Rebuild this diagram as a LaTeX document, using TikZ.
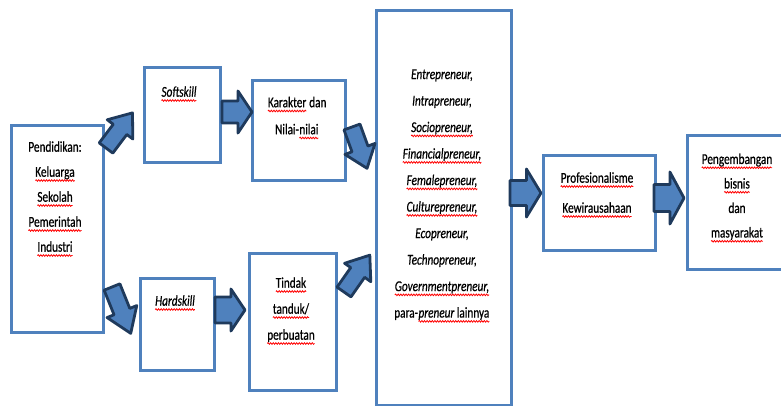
\documentclass[tikz,border=0pt]{standalone}
\usepackage{fontspec}
\setmainfont{Carlito}[FakeStretch=0.75,FakeBold=0.6]
\usetikzlibrary{decorations.pathmorphing}
\definecolor{boxblue}{HTML}{4F81BD}
\definecolor{arrfill}{HTML}{4F81BD}
\definecolor{arrline}{HTML}{1F3A5C}
\tikzset{
  boxsty/.style={draw=boxblue,line width=3pt,fill=white,inner sep=0pt,anchor=north west},
  txt/.style={align=center,inner sep=0pt,font=\fontsize{15}{25}\selectfont},
  arrowsty/.style={draw=arrline,fill=arrfill,line width=2.8pt,line join=round},
  squig/.style={draw=red,line width=0.8pt,decorate,decoration={snake,amplitude=0.8pt,segment length=2.6pt}}
}
\newcommand\sq[1]{\tikz[baseline=(w.base)]{\node[inner sep=0pt,outer sep=0pt](w){#1};\draw[squig]([yshift=-3.8pt]w.base west)--([yshift=-3.8pt]w.base east);}}
\newcommand\barrow[6]{\draw[arrowsty,shift={(#1,#2)},rotate=#3]
  (0,{#5/2}) -- ({0.53*#4},{#5/2}) -- ({0.53*#4},{#6/2}) -- (#4,0) --
  ({0.53*#4},{-#6/2}) -- ({0.53*#4},{-#5/2}) -- (0,{-#5/2}) -- cycle;}
\begin{document}
\begin{tikzpicture}[x=1pt,y=-1pt]
\useasboundingbox (0,0) rectangle (781,405);
\clip (0,0) rectangle (781,405);
% boxes
\node[boxsty,minimum width=92pt,minimum height=207pt] (b1) at (9.5,123.5) {};
\node[boxsty,minimum width=76pt,minimum height=95pt] (b2) at (142.5,65.5) {};
\node[boxsty,minimum width=93pt,minimum height=100pt] (b3) at (250.5,78.5) {};
\node[boxsty,minimum width=74pt,minimum height=92pt] (b4) at (138.5,276.5) {};
\node[boxsty,minimum width=87pt,minimum height=137pt] (b5) at (247.5,251.5) {};
\node[boxsty,minimum width=135pt,minimum height=395pt] (b6) at (374.5,8.5) {};
\node[boxsty,minimum width=112pt,minimum height=95pt] (b7) at (541.5,153.5) {};
\node[boxsty,minimum width=110pt,minimum height=134pt] (b8) at (685.5,133.5) {};
% texts
\node[txt] (t1) at (55,199) {Pendidikan:\\\sq{Keluarga}\\\sq{Sekolah}\\\sq{Pemerintah}\\\sq{Industri}};
\node[txt] (t2) at (179,94) {\sq{\itshape Softskill}};
\node[txt,font=\fontsize{15}{27}\selectfont] (t3) at (297,118) {\sq{Karakter} dan\\Nilai-\sq{nilai}};
\node[txt] (t4) at (175,303) {\sq{\itshape Hardskill}};
\node[txt,font=\fontsize{15}{26}\selectfont] (t5) at (291,311) {\sq{Tindak}\\\sq{tanduk/}\\\sq{perbuatan}};
\node[txt,font=\fontsize{15}{26.5}\selectfont] (t6) at (442,196) {\itshape Entrepreneur,\\\itshape Intrapreneur,\\\sq{\itshape Sociopreneur,}\\\sq{\itshape Financialpreneur,}\\\sq{\itshape Femalepreneur,}\\\sq{\itshape Culturepreneur,}\\\itshape Ecopreneur,\\\itshape Technopreneur,\\\sq{\itshape Governmentpreneur,}\\para-\sq{\itshape preneur\upshape\ lainnya}};
\node[txt,font=\fontsize{15}{30}\selectfont] (t7) at (597,195) {\sq{Profesionalisme}\\\sq{Kewirausahaan}};
\node[txt,font=\fontsize{15}{24.5}\selectfont] (t8) at (737,198) {\sq{Pengembangan}\\\sq{bisnis}\\dan\\\sq{masyarakat}};
% block arrows
\barrow{106}{148}{53}{44}{17}{32}
\barrow{112}{287}{-68}{50}{17}{32}
\barrow{222}{112}{0}{30}{22}{42}
\barrow{215}{310}{0}{30}{26}{42}
\barrow{352}{127}{-70}{44}{17}{32}
\barrow{344}{292}{55}{45}{17}{32}
\barrow{510}{193}{0}{31}{25}{48}
\barrow{654}{198}{0}{30}{27}{52}
\end{tikzpicture}
\end{document}
